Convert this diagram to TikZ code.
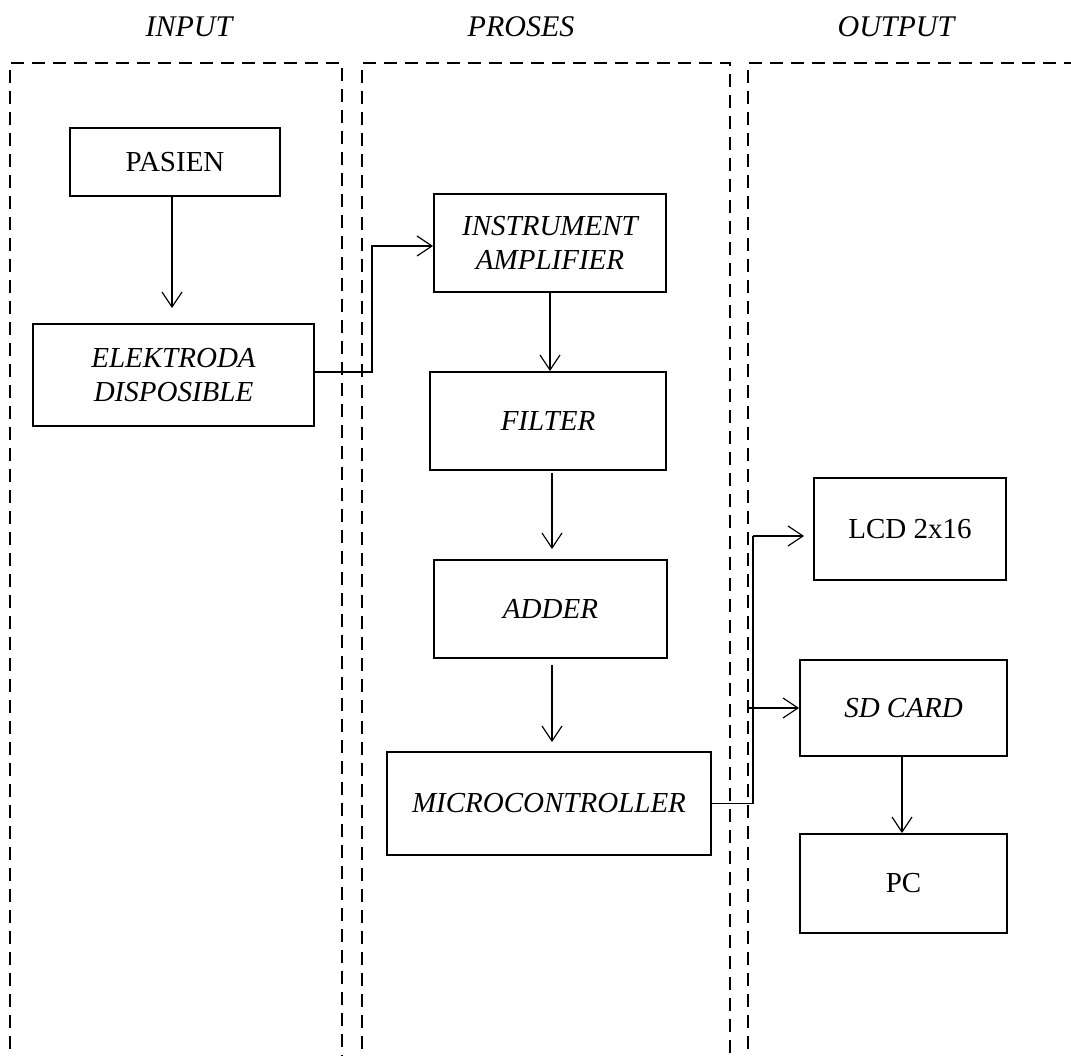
\documentclass[tikz,border=0pt]{standalone}
\usepackage{fontspec}
\setmainfont{Liberation Serif}
\usetikzlibrary{arrows.meta}
\begin{document}
\begin{tikzpicture}[x=1pt,y=-1pt,
  blk/.style={draw,line width=1.8pt,rectangle,inner sep=0pt,align=center,
    font=\fontsize{29}{34}\selectfont},
  itblk/.style={blk,font=\fontsize{29}{34}\selectfont\itshape},
  conn/.style={line width=1.2pt,-{Straight Barb[length=15pt,width=20pt,line width=1.2pt]}},
  plain/.style={line width=1.2pt},
  col/.style={line width=1.8pt,dash pattern=on 13pt off 8pt},
  ttl/.style={font=\fontsize{30}{34}\selectfont\itshape,anchor=base,inner sep=0pt}]
\useasboundingbox (0,0) rectangle (1071,1056);
\clip (0,0) rectangle (1071,1056);
% column titles
\node[ttl] (tin) at (189,37) {INPUT};
\node[ttl] (tpr) at (521,37) {PROSES};
\node[ttl] (tout) at (896,37) {OUTPUT};
% dashed columns
\draw[col] (10,1070) -- (10,63) -- (342,63) -- (342,1070);
\draw[col] (362,1070) -- (362,63) -- (730,63) -- (730,1070);
\draw[col] (748,1070) -- (748,63) -- (1080,63);
% blocks
\node[blk,minimum width=210pt,minimum height=68pt] (pasien) at (175,162) {PASIEN};
\node[itblk,minimum width=281pt,minimum height=102pt] (elek) at (173.5,375) {ELEKTRODA\\DISPOSIBLE};
\node[itblk,minimum width=232pt,minimum height=98pt] (instr) at (550,243) {INSTRUMENT\\AMPLIFIER};
\node[itblk,minimum width=236pt,minimum height=98pt] (filter) at (548,421) {FILTER};
\node[itblk,minimum width=233pt,minimum height=98pt] (adder) at (550.5,609) {ADDER};
\node[itblk,minimum width=324pt,minimum height=103pt] (micro) at (549,803.5) {MICROCONTROLLER};
\node[blk,minimum width=192pt,minimum height=102pt] (lcd) at (910,529) {LCD 2x16};
\node[itblk,minimum width=207pt,minimum height=96pt] (sd) at (903.5,708) {SD CARD};
\node[blk,minimum width=207pt,minimum height=99pt] (pc) at (903.5,883.5) {PC};
% junction coordinates
\coordinate (j1) at (372,0);
\coordinate (j2) at (753,0);
\coordinate (j3) at (748,0);
% connectors
\draw[conn,shorten >=15pt] ([xshift=-3pt]pasien.south) -- ([xshift=-3pt]pasien.south |- elek.north);
\draw[conn] ([yshift=3pt]elek.east) -- ([yshift=3pt]elek.east -| j1) -- ([yshift=-3pt]instr.west -| j1) -- ([yshift=-3pt]instr.west);
\draw[conn] (instr.south) -- (instr.south |- filter.north);
\draw[conn,shorten <=2pt,shorten >=10pt] ([xshift=1.5pt]adder.north |- filter.south) -- ([xshift=1.5pt]adder.north);
\draw[conn,shorten <=6pt,shorten >=9pt] ([xshift=1.5pt]adder.south) -- ([xshift=1.5pt]adder.south |- micro.north);
\draw[plain] (micro.east) -- (micro.east -| j2) -- ([yshift=-7pt]lcd.west -| j2);
\draw[conn,shorten >=9pt] ([yshift=-7pt]lcd.west -| j2) -- ([yshift=-7pt]lcd.west);
\draw[conn] (sd.west -| j3) -- (sd.west);
\draw[conn] ([xshift=-1.5pt]sd.south) -- ([xshift=-1.5pt]sd.south |- pc.north);
\end{tikzpicture}
\end{document}
